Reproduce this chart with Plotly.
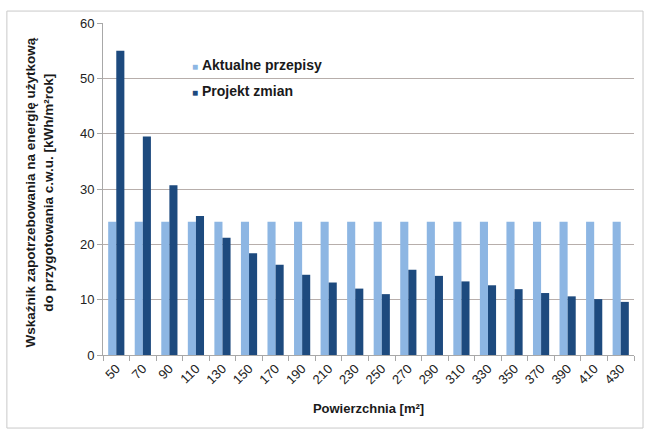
import plotly.graph_objects as go

# Floor area categories [m2]
areas = ["50", "70", "90", "110", "130", "150", "170", "190", "210", "230",
         "250", "270", "290", "310", "330", "350", "370", "390", "410", "430"]

# Current regulations: constant indicator
aktualne = [24.1] * 20

# Proposed changes
projekt = [55.0, 39.5, 30.7, 25.1, 21.2, 18.4, 16.3, 14.5, 13.1, 12.0,
           11.0, 15.4, 14.3, 13.3, 12.6, 11.9, 11.2, 10.6, 10.1, 9.6]

series_names = ["Aktualne przepisy", "Projekt zmian"]

LIGHT = "#8db6e3"
DARK = "#1d4a7e"
FONT = "Liberation Sans, Arial, sans-serif"

fig = go.Figure()
fig.add_trace(go.Bar(x=areas, y=aktualne, name=series_names[0],
                     marker=dict(color=LIGHT, line=dict(width=0)),
                     showlegend=False))
fig.add_trace(go.Bar(x=areas, y=projekt, name=series_names[1],
                     marker=dict(color=DARK, line=dict(width=0)),
                     showlegend=False))

fig.update_layout(
    width=648, height=429,
    margin=dict(l=103, r=14, t=23, b=74),
    paper_bgcolor="white", plot_bgcolor="white",
    barmode="group", bargap=0.39, bargroupgap=0,
    font=dict(family=FONT, size=12, color="#222222"),
    xaxis=dict(
        type="category",
        showline=True, linecolor="#a8a8a8", linewidth=1,
        ticks="outside", ticklen=5, tickcolor="#a8a8a8",
        tickson="boundaries",
        tickangle=-45,
        tickfont=dict(family=FONT, size=13, color="#222222"),
        showgrid=False,
        title=dict(text="<b>Powierzchnia [m²]</b>",
                   font=dict(family=FONT, size=13, color="#1a1a1a"),
                   standoff=17),
    ),
    yaxis=dict(
        range=[0, 60], dtick=10,
        showline=True, linecolor="#a8a8a8", linewidth=1,
        ticks="outside", ticklen=5, tickcolor="#a8a8a8",
        showgrid=True, gridcolor="#b7aeab", gridwidth=1,
        zeroline=False,
        tickfont=dict(family=FONT, size=13, color="#222222"),
    ),
)

# Legend entries drawn as text with small coloured squares
for name, color, ypos in [(series_names[0], LIGHT, 0.872),
                          (series_names[1], DARK, 0.794)]:
    fig.add_annotation(
        xref="paper", yref="paper", x=0.163, y=ypos,
        text=f'<span style="color:{color};font-size:10px">■</span> <b>{name}</b>',
        showarrow=False, xanchor="left", yanchor="middle",
        font=dict(family=FONT, size=14, color="#1a1a1a"),
    )

# Two-line vertical axis title
fig.add_annotation(
    xref="paper", yref="paper", x=-0.12, y=0.49,
    text="<b>Wskaźnik zapotrzebowania na energię użytkową<br>"
         "do przygotowania c.w.u. [kWh/m²rok]</b>",
    textangle=-90, showarrow=False,
    font=dict(family=FONT, size=13.5, color="#1a1a1a"),
    xanchor="center", yanchor="middle",
)

# Outer chart frame
fig.add_shape(type="rect", xref="paper", yref="paper",
              x0=-0.181, x1=1.017, y0=-0.22, y1=1.036,
              line=dict(color="#c9c9c9", width=1), fillcolor="rgba(0,0,0,0)",
              layer="below")

fig.write_html("out.html")
